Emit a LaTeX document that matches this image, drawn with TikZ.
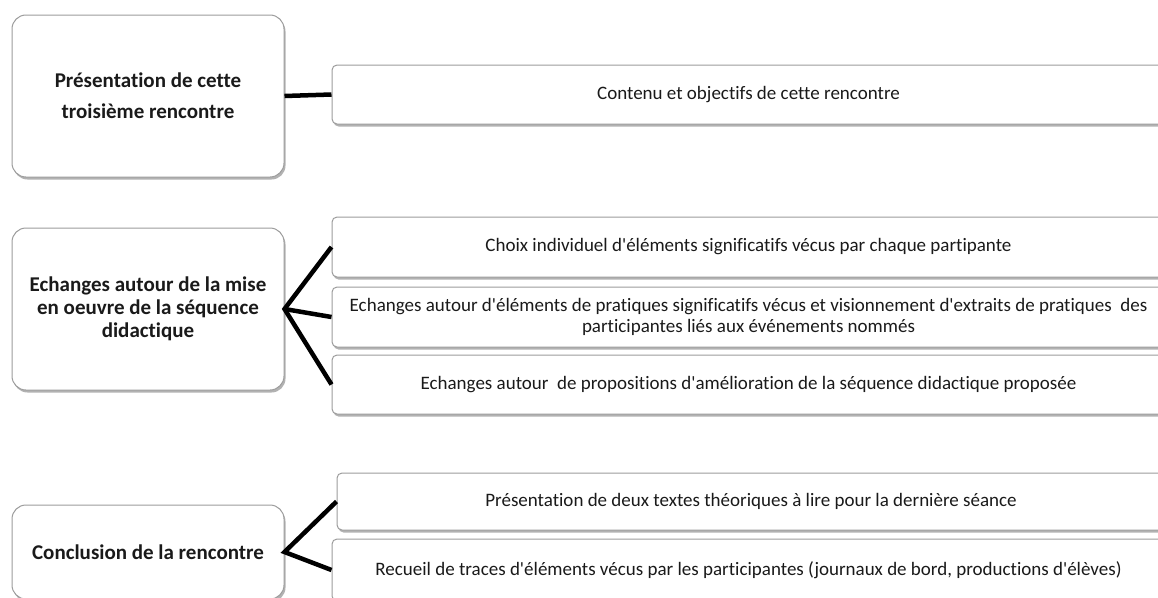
\documentclass[tikz,border=0pt]{standalone}
\usepackage{fontspec}
% plain family, so that ' stays a straight apostrophe; no tt/ti ligatures
\newfontfamily\boxfont{Carlito}[Ligatures=NoCommon]
\usetikzlibrary{shadows}
\definecolor{boxline}{HTML}{9C9C9C}
\definecolor{inktext}{HTML}{1A1A1A}
\begin{document}
\begin{tikzpicture}[x=1pt,y=-1pt,
  box/.style={draw=boxline, line width=1pt, fill=white, inner sep=0pt,
    drop shadow={shadow xshift=1.5pt, shadow yshift=-2.5pt, opacity=0.3, fill=black},
    text=inktext, align=center},
  headbox/.style={box, rounded corners=14pt, minimum width=272pt,
    font=\boxfont\bfseries\fontsize{21}{23}\selectfont},
  itembox/.style={box, rounded corners=5pt, minimum width=833pt,
    font=\boxfont\fontsize{19}{21}\selectfont},
  link/.style={line width=4.5pt, line join=miter}]
\useasboundingbox (0,0) rectangle (1158,597);
\clip (0,0) rectangle (1158,597);

% first block
\node[headbox, minimum height=162pt] (A) at (148,96)
  {Présentation de cette\\[8pt]troisième rencontre};
\node[itembox, minimum height=59pt] (A1) at (748.5,94.5)
  {Contenu et objectifs de cette rencontre};

% second block
\node[headbox, minimum height=162pt] (B) at (148,309)
  {Echanges autour de la mise\\en oeuvre de la séquence\\didactique};
\node[itembox, minimum height=60pt] (B1) at (748.5,247)
  {Choix individuel d'éléments significatifs vécus par chaque partipante};
\node[itembox, minimum height=60pt] (B2) at (748.5,317)
  {Echanges autour d'éléments de pratiques significatifs vécus et visionnement d'extraits de pratiques\ \ des\\participantes liés aux événements nommés};
\node[itembox, minimum height=59pt] (B3) at (748.5,384.5)
  {Echanges autour\ \ de propositions d'amélioration de la séquence didactique proposée};

% third block
\node[headbox, minimum height=94pt] (C) at (148,552)
  {Conclusion de la rencontre};
\node[itembox, minimum width=828pt, minimum height=57pt] (C1) at (751,501.5)
  {Présentation de deux textes théoriques à lire pour la dernière séance};
\node[itembox, minimum height=62pt] (C2) at (748.5,570)
  {Recueil de traces d'éléments vécus par les participantes (journaux de bord, productions d'élèves)};

% connectors
\draw[link] (A.east) -- (A1.west);
\draw[link] (B1.west) -- (B.east) -- (B3.west);
\draw[link] (B.east) -- (B2.west);
\draw[link] (C1.west) -- (C.east) -- (C2.west);
\end{tikzpicture}
\end{document}
